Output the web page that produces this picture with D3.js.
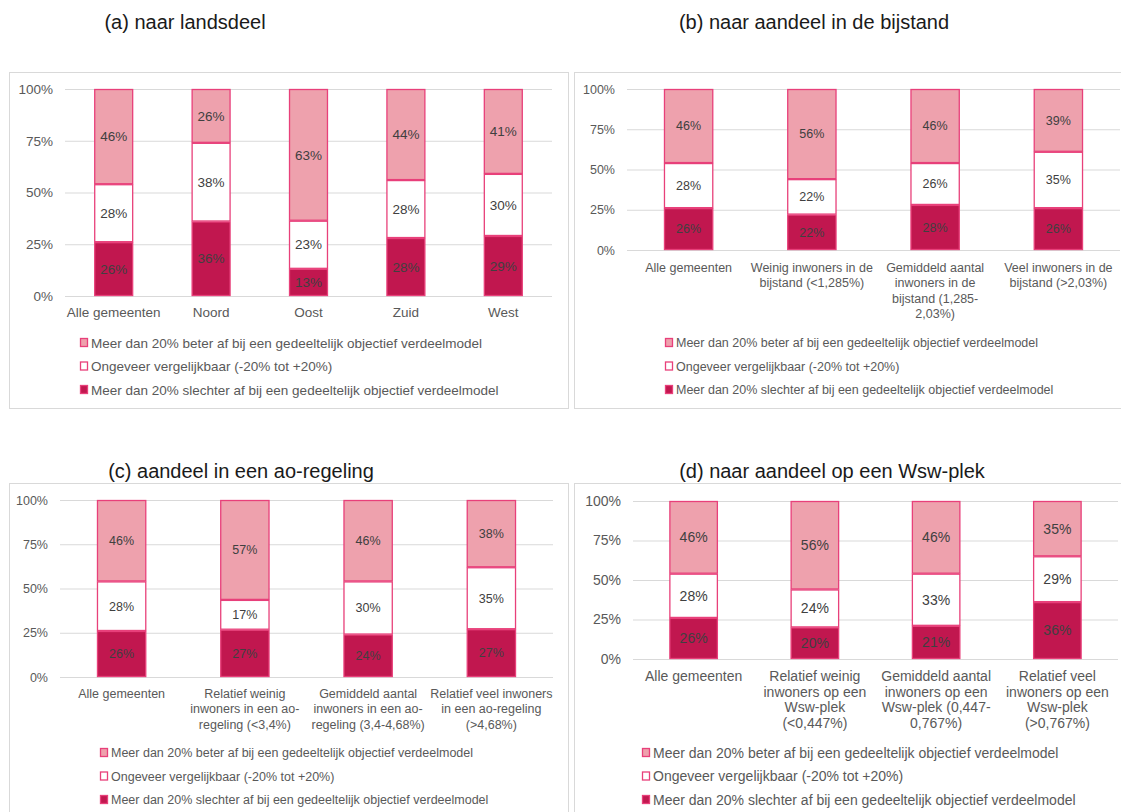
<!DOCTYPE html>
<html>
<head>
<meta charset="utf-8">
<script src="https://cdn.jsdelivr.net/npm/d3@7"></script>
<style>
  body { margin: 0; background: #fff; }
  svg { font-family: "Liberation Sans", Arial, sans-serif; }
</style>
</head>
<body>
<svg id="chart" width="1121" height="812"></svg>
<script>
// series names (legend order)
const seriesNames = [
  "Meer dan 20% beter af bij een gedeeltelijk objectief verdeelmodel",
  "Ongeveer vergelijkbaar (-20% tot +20%)",
  "Meer dan 20% slechter af bij een gedeeltelijk objectief verdeelmodel"
];
const yTicks = [0, 0.25, 0.5, 0.75, 1];

// (a) naar landsdeel
const catsA = ["Alle gemeenten", "Noord", "Oost", "Zuid", "West"];
const slechterA = [26, 36, 13, 28, 29];
const ongeveerA = [28, 38, 23, 28, 30];
const beterA = [46, 26, 63, 44, 41];

// (b) naar aandeel in de bijstand
const catsB = ["Alle gemeenten", "Weinig inwoners in de\nbijstand (<1,285%)", "Gemiddeld aantal\ninwoners in de\nbijstand (1,285-\n2,03%)", "Veel inwoners in de\nbijstand (>2,03%)"];
const slechterB = [26, 22, 28, 26];
const ongeveerB = [28, 22, 26, 35];
const beterB = [46, 56, 46, 39];

// (c) aandeel in een ao-regeling
const catsC = ["Alle gemeenten", "Relatief weinig\ninwoners in een ao-\nregeling (<3,4%)", "Gemiddeld aantal\ninwoners in een ao-\nregeling (3,4-4,68%)", "Relatief veel inwoners\nin een ao-regeling\n(>4,68%)"];
const slechterC = [26, 27, 24, 27];
const ongeveerC = [28, 17, 30, 35];
const beterC = [46, 57, 46, 38];

// (d) naar aandeel op een Wsw-plek
const catsD = ["Alle gemeenten", "Relatief weinig\ninwoners op een\nWsw-plek\n(<0,447%)", "Gemiddeld aantal\ninwoners op een\nWsw-plek (0,447-\n0,767%)", "Relatief veel\ninwoners op een\nWsw-plek\n(>0,767%)"];
const slechterD = [26, 20, 21, 36];
const ongeveerD = [28, 24, 33, 29];
const beterD = [46, 56, 46, 35];

const fills = ["#EEA1AD", "#FFFFFF", "#C1174F"];
const strokeCol = "#E8407A";
const textCol = "#595959";

const svg = d3.select('#chart');

function drawPanel(p) {
  const fs = p.fs + 'px';
  const g = svg.append('g');
  // panel border
  g.append('rect')
    .attr('x', p.box[0] + 0.5).attr('y', p.box[1] + 0.5)
    .attr('width', p.box[2]).attr('height', p.box[3])
    .attr('fill', 'none').attr('stroke', '#D9D9D9');

  g.append('text')
    .attr('x', p.titleX).attr('y', p.titleY)
    .attr('text-anchor', 'middle')
    .style('font-size', '20px')
    .attr('fill', '#1a1a1a')
    .text(p.title);

  const x = d3.scaleBand()
    .domain(p.cats)
    .range([p.x0, p.x1])
    .paddingInner(0.6)
    .paddingOuter(0.3);
  const y = d3.scaleLinear().domain([0, 1]).range([p.yb, p.yt]);

  const yAxis = d3.axisLeft(y)
    .tickValues(yTicks)
    .tickSize(-(p.x1 - p.x0))
    .tickPadding(12)
    .tickFormat(d3.format('.0%'));
  const ya = g.append('g')
    .attr('transform', `translate(${p.x0},0)`)
    .call(yAxis);
  ya.select('.domain').remove();
  ya.selectAll('line').attr('stroke', '#D9D9D9');
  ya.selectAll('text').attr('fill', textCol).style('font-size', fs);

  // 100% stacked: shares of each bar's total
  const rows = p.cats.map((c, i) => {
    const tot = p.slechter[i] + p.ongeveer[i] + p.beter[i];
    return {
      cat: c,
      s0: p.slechter[i] / tot, s1: p.ongeveer[i] / tot, s2: p.beter[i] / tot,
      v: { s0: p.slechter[i], s1: p.ongeveer[i], s2: p.beter[i] }
    };
  });
  const stack = d3.stack().keys(['s0', 's1', 's2'])(rows);
  const colorFor = { s0: fills[2], s1: fills[1], s2: fills[0] };

  stack.forEach(layer => {
    const seg = g.append('g');
    seg.selectAll('rect')
      .data(layer)
      .enter()
      .append('rect')
      .attr('x', d => x(d.data.cat) + 0.5)
      .attr('y', d => y(d[1]) + 0.5)
      .attr('width', x.bandwidth() - 1)
      .attr('height', d => y(d[0]) - y(d[1]) - 1)
      .attr('fill', colorFor[layer.key])
      .attr('stroke', strokeCol)
      .attr('stroke-width', 1.3);
    seg.selectAll('text')
      .data(layer)
      .enter()
      .append('text')
      .attr('x', d => x(d.data.cat) + x.bandwidth() / 2)
      .attr('y', d => (y(d[0]) + y(d[1])) / 2)
      .attr('dy', '0.35em')
      .attr('text-anchor', 'middle')
      .attr('fill', '#404040')
      .style('font-size', fs)
      .text(d => d.data.v[layer.key] + '%');
  });

  // category labels
  const lab = g.selectAll('.cat')
    .data(p.cats)
    .enter()
    .append('text')
    .attr('class', 'cat')
    .attr('text-anchor', 'middle')
    .attr('fill', textCol)
    .style('font-size', fs)
    .attr('x', d => x(d) + x.bandwidth() / 2)
    .attr('y', p.labelY);
  lab.each(function(d) {
    const t = d3.select(this);
    const xc = x(d) + x.bandwidth() / 2;
    d.split('\n').forEach((line, k) => {
      t.append('tspan').attr('x', xc).attr('dy', k === 0 ? 0 : p.lh).text(line);
    });
  });

  // legend
  const leg = g.selectAll('.leg')
    .data(seriesNames)
    .enter()
    .append('g')
    .attr('transform', (d, i) => `translate(${p.legX},${p.legY + i * 23.5})`);
  leg.append('rect')
    .attr('x', 0.5).attr('y', -4.5)
    .attr('width', 7).attr('height', 8)
    .attr('fill', (d, i) => fills[i])
    .attr('stroke', strokeCol)
    .attr('stroke-width', 1.3);
  leg.append('text')
    .attr('x', 11).attr('dy', '0.35em')
    .attr('fill', textCol)
    .style('font-size', fs)
    .text(d => d);
}

drawPanel({
  title: '(a) naar landsdeel', titleX: 185, titleY: 29,
  box: [9, 72, 559, 336], fs: 13.5, lh: 15.5,
  cats: catsA, slechter: slechterA, ongeveer: ongeveerA, beter: beterA,
  x0: 65, x1: 552, yt: 89, yb: 296, labelY: 317,
  legX: 80, legY: 343
});
drawPanel({
  title: '(b) naar aandeel in de bijstand', titleX: 814, titleY: 29,
  box: [574, 72, 560, 336], fs: 12.5, lh: 15.3,
  cats: catsB, slechter: slechterB, ongeveer: ongeveerB, beter: beterB,
  x0: 627, x1: 1120, yt: 89, yb: 250, labelY: 272,
  legX: 665, legY: 343
});
drawPanel({
  title: '(c) aandeel in een ao-regeling', titleX: 241, titleY: 478,
  box: [9, 483, 559, 340], fs: 12.5, lh: 15.3,
  cats: catsC, slechter: slechterC, ongeveer: ongeveerC, beter: beterC,
  x0: 60, x1: 553, yt: 500, yb: 677, labelY: 698,
  legX: 100, legY: 753
});
drawPanel({
  title: '(d) naar aandeel op een Wsw-plek', titleX: 832, titleY: 478,
  box: [574, 483, 560, 340], fs: 14, lh: 15.7,
  cats: catsD, slechter: slechterD, ongeveer: ongeveerD, beter: beterD,
  x0: 633, x1: 1118, yt: 501, yb: 659, labelY: 681,
  legX: 642, legY: 753
});
</script>
</body>
</html>
